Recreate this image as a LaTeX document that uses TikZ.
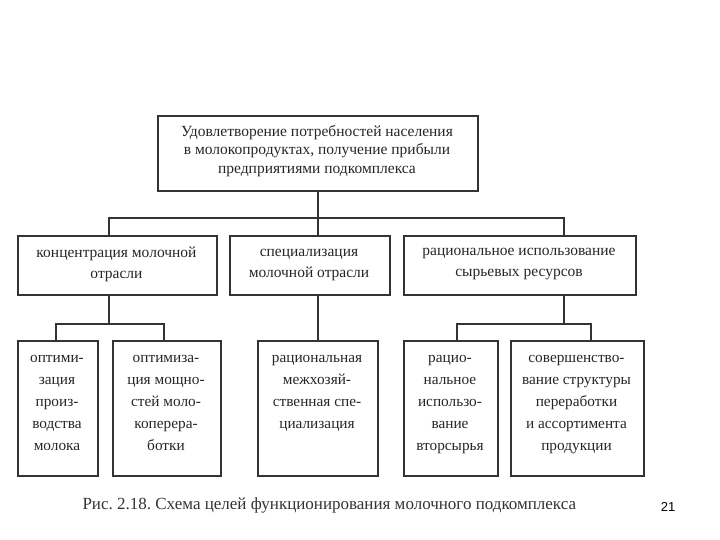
\documentclass[tikz,border=0pt]{standalone}
\usepackage{fontspec}
\setmainfont{Liberation Serif}
\newfontfamily\numfont{Liberation Sans}
\definecolor{ln}{HTML}{333333}
\definecolor{tx}{HTML}{262626}
\frenchspacing
\begin{document}
\begin{tikzpicture}[x=1pt,y=-1pt,
  boxn/.style={draw=ln,line width=1.8pt,inner sep=0pt,anchor=north west,text=tx},
  toptext/.style={align=center,font=\fontsize{15.5}{18.5}\selectfont,text=tx},
  midtext/.style={align=center,font=\fontsize{15.5}{21}\selectfont,text=tx},
  bottext/.style={align=center,anchor=north,font=\fontsize{15.3}{22}\selectfont,text=tx,inner sep=0pt},
  conn/.style={draw=ln,line width=1.6pt}]
\useasboundingbox (0,0) rectangle (720,540);
% top box
\node[boxn,minimum width=320pt,minimum height=75pt] (top) at (157,115) {};
\node[toptext] (toptx) at (317,151) {Удовлетворение потребностей населения\\в молокопродуктах, получение прибыли\\предприятиями подкомплекса};
% middle boxes
\node[boxn,minimum width=199pt,minimum height=59pt] (m1) at (17,235) {};
\node[midtext] (m1t) at (116.5,264.5) {концентрация молочной\\отрасли};
\node[boxn,minimum width=160pt,minimum height=59pt] (m2) at (229,235) {};
\node[midtext] (m2t) at (309,264.5) {специализация\\молочной отрасли};
\node[boxn,minimum width=232pt,minimum height=59pt] (m3) at (403,235) {};
\node[midtext] (m3t) at (519,264.5) {рациональное использование\\сырьевых ресурсов};
% bottom boxes
\node[boxn,minimum width=80pt,minimum height=135pt] (b1) at (17,340) {};
\node[bottext] (b1t) at (57,355) {оптими-\\зация\\произ-\\водства\\молока};
\node[boxn,minimum width=108pt,minimum height=135pt] (b2) at (112,340) {};
\node[bottext] (b2t) at (166,355) {оптимиза-\\ция мощно-\\стей моло-\\коперера-\\ботки};
\node[boxn,minimum width=120pt,minimum height=135pt] (b3) at (257,340) {};
\node[bottext] (b3t) at (317,355) {рациональная\\межхозяй-\\ственная спе-\\циализация};
\node[boxn,minimum width=94pt,minimum height=135pt] (b4) at (403,340) {};
\node[bottext] (b4t) at (450,355) {рацио-\\нальное\\использо-\\вание\\вторсырья};
\node[boxn,minimum width=133pt,minimum height=135pt] (b5) at (510,340) {};
\node[bottext] (b5t) at (576.5,355) {совершенство-\\вание структуры\\переработки\\и ассортимента\\продукции};
% junction coordinates
\coordinate (j0) at (318,218);
\coordinate (j0l) at (109,218);
\coordinate (j0r) at (564,218);
\coordinate (j1) at (109,324);
\coordinate (j1l) at (56,324);
\coordinate (j1r) at (164,324);
\coordinate (j2) at (318,324);
\coordinate (j3) at (564,324);
\coordinate (j3l) at (457,324);
\coordinate (j3r) at (591,324);
% connectors
\draw[conn] (j0 |- top.south) -- (j0);
\draw[conn] (j0l |- m1.north) -- (j0l) -- (j0r) -- (j0r |- m3.north);
\draw[conn] (j0) -- (j0 |- m2.north);
\draw[conn] (j1 |- m1.south) -- (j1);
\draw[conn] (j1l |- b1.north) -- (j1l) -- (j1r) -- (j1r |- b2.north);
\draw[conn] (j2 |- m2.south) -- (j2 |- b3.north);
\draw[conn] (j3 |- m3.south) -- (j3);
\draw[conn] (j3l |- b4.north) -- (j3l) -- (j3r) -- (j3r |- b5.north);
% caption
\node[anchor=west,font=\fontsize{17}{19}\selectfont,text=ln] (cap) at (79,505) {Рис. 2.18. Схема целей функционирования молочного подкомплекса};
\node[font=\numfont\fontsize{13}{15}\selectfont,text=black] (pg) at (668,507) {21};
\end{tikzpicture}
\end{document}
